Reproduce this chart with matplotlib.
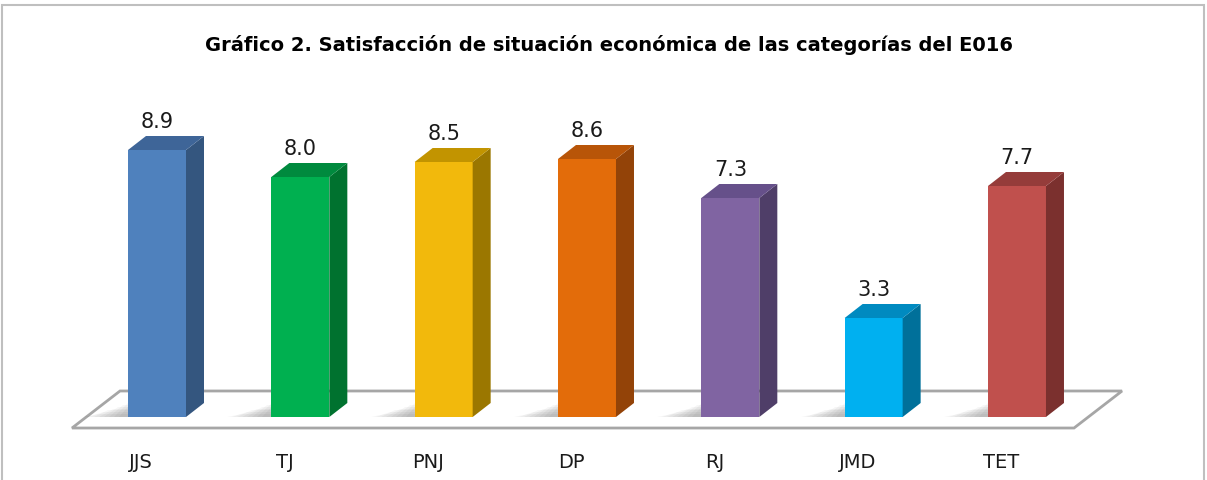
import matplotlib
matplotlib.use("Agg")
import matplotlib.pyplot as plt
from matplotlib.patches import Polygon, Rectangle

# ---- data ----
categories = ["JJS", "TJ", "PNJ", "DP", "RJ", "JMD", "TET"]
values = [8.9, 8.0, 8.5, 8.6, 7.3, 3.3, 7.7]
value_labels = ["8.9", "8.0", "8.5", "8.6", "7.3", "3.3", "7.7"]
front_colors = ["#4F81BD", "#00B050", "#F2B90C", "#E36C0A", "#8064A2", "#00B0F0", "#C0504D"]
side_colors = ["#34567F", "#00722F", "#9B7700", "#934308", "#4F3E68", "#00709A", "#7B302E"]
top_colors = ["#3E6598", "#008A3E", "#C29400", "#B85508", "#66508A", "#008AC0", "#953C3A"]
title = "Gráfico 2. Satisfacción de situación económica de las categorías del E016"

W, H = 1207, 480
fig = plt.figure(figsize=(W / 100, H / 100), dpi=100)
ax = fig.add_axes([0, 0, 1, 1])
xpu = 143.33  # px per category
ypu = 30.0    # px per value unit
x0px, y0px = 157, 417
ax.set_xlim(-x0px / xpu, (W - x0px) / xpu)
ax.set_ylim(-(H - y0px) / ypu, y0px / ypu)
ax.axis("off")

# outer border
fig.patches.append(Rectangle((2 / W, -0.05), (W - 5) / W, 1 - 5 / H + 0.05,
                             transform=fig.transFigure, fill=False,
                             edgecolor="#BFBFBF", lw=1.5, zorder=0))

bw = 58 / xpu
dx = 18 / xpu
dy = 14 / ypu

# floor
fl, fr = -0.593, 6.398
fb, ft = -0.367, 0.867
fdx = 48 / xpu
ax.add_patch(Polygon([(fl, fb), (fr, fb), (fr + fdx, ft), (fl + fdx, ft)],
                     closed=True, facecolor="white", edgecolor="#A6A6A6", lw=2, zorder=1))

for i, (v, fc, sc, tc) in enumerate(zip(values, front_colors, side_colors, top_colors)):
    l, r = i - bw / 2, i + bw / 2
    # soft shadow to the left of the bar base
    for k in range(8):
        ext = (44 - k * 5) / xpu
        hgt = 0.1 + 0.06 * k
        ax.add_patch(Polygon([(l - ext, 0.0), (l, 0.0), (l, hgt), (l - ext + 0.1, hgt)],
                             closed=True, facecolor="black", edgecolor="none", alpha=0.035, zorder=2))
    ax.add_patch(Polygon([(l, 0), (r, 0), (r, v), (l, v)], closed=True,
                         facecolor=fc, edgecolor="none", zorder=3))
    ax.add_patch(Polygon([(r, 0), (r + dx, dy), (r + dx, v + dy), (r, v)], closed=True,
                         facecolor=sc, edgecolor="none", zorder=3))
    ax.add_patch(Polygon([(l, v), (r, v), (r + dx, v + dy), (l + dx, v + dy)], closed=True,
                         facecolor=tc, edgecolor="none", zorder=3))
    ax.text(i, v + dy + 0.12, value_labels[i], ha="center", va="bottom",
            fontsize=15, color="#1a1a1a", zorder=4)
    ax.text(i - 0.11, -1.53, categories[i], ha="center", va="center",
            fontsize=14, color="#1a1a1a", zorder=4)

fig.text(609 / W, 1 - 45 / H, title, ha="center", va="center",
         fontsize=14, fontweight="bold", family="DejaVu Sans")

fig.savefig("out.png", dpi=100, facecolor="white")
